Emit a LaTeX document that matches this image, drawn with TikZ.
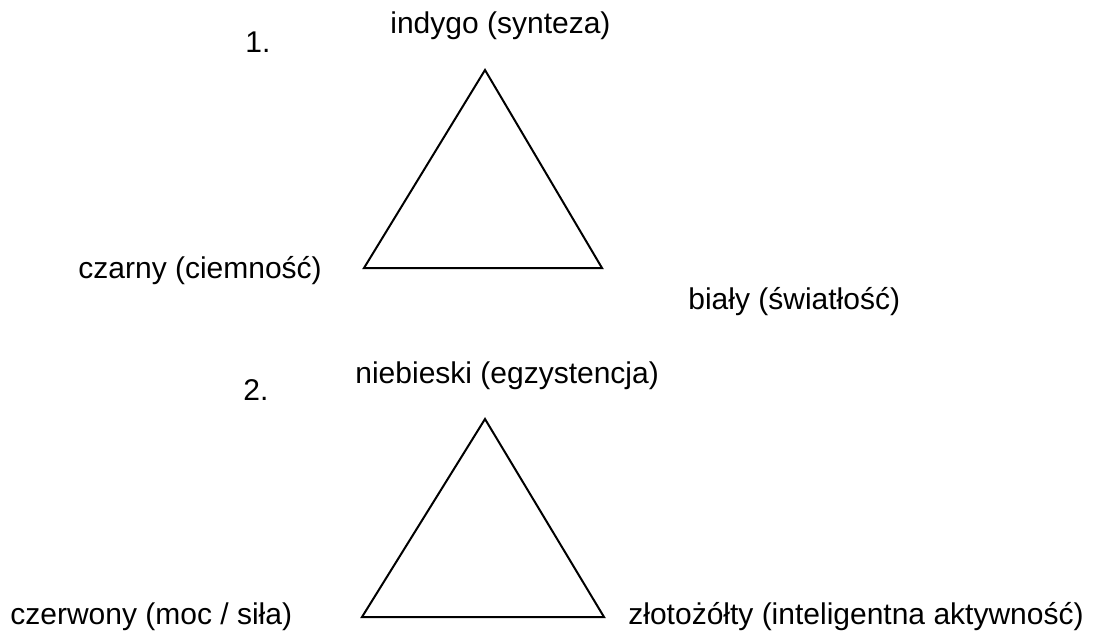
\documentclass[tikz,border=0pt]{standalone}
\usepackage{fontspec}
\setmainfont{Liberation Sans}
\usepackage{tikz}
\usetikzlibrary{positioning}
\tikzset{
  etykieta/.style={anchor=base west, inner sep=0pt, font=\fontsize{15}{18}\selectfont},
  trojkat/.style={draw, line width=1pt, line join=miter}
}

\begin{document}
\begin{tikzpicture}[x=0.5pt,y=-0.5pt]
\useasboundingbox (0,0) rectangle (1114,632);
\coordinate (g1) at (485,70);
\coordinate (l1) at (364,268);
\coordinate (p1) at (602,268);
\draw[trojkat] (g1) -- (l1) -- (p1) -- cycle;
\coordinate (g2) at (485,419);
\coordinate (l2) at (362,617);
\coordinate (p2) at (604,617);
\draw[trojkat] (g2) -- (l2) -- (p2) -- cycle;
\node[etykieta] (nr1) at (245,52) {1.};
\node[etykieta] (indygo) at (390,33) {indygo (synteza)};
\node[etykieta] (czarny) at (78,278) {czarny (ciemność)};
\node[etykieta] (bialy) at (688,309) {biały (światłość)};
\node[etykieta] (nr2) at (243,400) {2.};
\node[etykieta] (niebieski) at (355,383) {niebieski (egzystencja)};
\node[etykieta] (czerwony) at (10,624) {czerwony (moc / siła)};
\node[etykieta] (zloty) at (628,624) {złotożółty (inteligentna aktywność)};
\end{tikzpicture}
\end{document}
